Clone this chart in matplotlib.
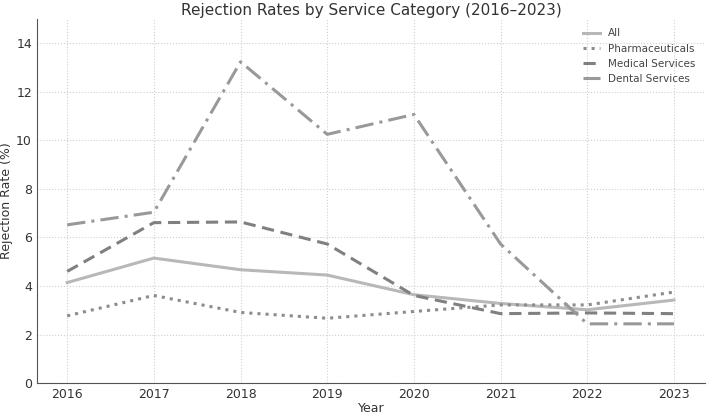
import matplotlib
matplotlib.use("Agg")
import matplotlib.pyplot as plt

years = [2016, 2017, 2018, 2019, 2020, 2021, 2022, 2023]
all_rates = [4.14, 5.15, 4.67, 4.45, 3.64, 3.28, 3.02, 3.42]
pharma = [2.77, 3.61, 2.91, 2.67, 2.95, 3.22, 3.22, 3.75]
medical = [4.60, 6.61, 6.64, 5.73, 3.61, 2.86, 2.89, 2.86]
dental = [6.52, 7.04, 13.24, 10.25, 11.07, 5.73, 2.44, 2.44]

fig = plt.figure(figsize=(7.08, 4.15), dpi=100)
ax = fig.add_axes([0.052, 0.077, 0.944, 0.877])

ax.plot(years, all_rates, color="#b8b8b8", lw=2.2, ls="-", label="All")
ax.plot(years, pharma, color="#8c8c8c", lw=2.2, ls=":", label="Pharmaceuticals")
ax.plot(years, medical, color="#808080", lw=2.2, ls=(0, (4, 2.2)), label="Medical Services")
ax.plot(years, dental, color="#999999", lw=2.2, ls=(0, (6, 2, 1, 2)), label="Dental Services")

ax.set_xlim(2015.65, 2023.36)
ax.set_ylim(0, 15)
ax.set_yticks([0, 2, 4, 6, 8, 10, 12, 14])
ax.set_xticks(years)
ax.grid(True, ls=":", color="#d0d0d0", lw=0.8)
for s in ["top", "right"]:
    ax.spines[s].set_visible(False)
for s in ["left", "bottom"]:
    ax.spines[s].set_color("#555555")
ax.tick_params(colors="#333333", labelsize=9, length=0)
ax.set_xlabel("Year", fontsize=9, color="#333333", labelpad=1)
ax.set_ylabel("Rejection Rate (%)", fontsize=9, color="#333333", labelpad=2)
ax.set_title("Rejection Rates by Service Category (2016\u20132023)", fontsize=11, color="#333333", pad=3)
leg = ax.legend(loc="upper right", frameon=False, fontsize=7.5, labelcolor="#444444",
                handlelength=1.6)

fig.savefig("out.png", dpi=100)
